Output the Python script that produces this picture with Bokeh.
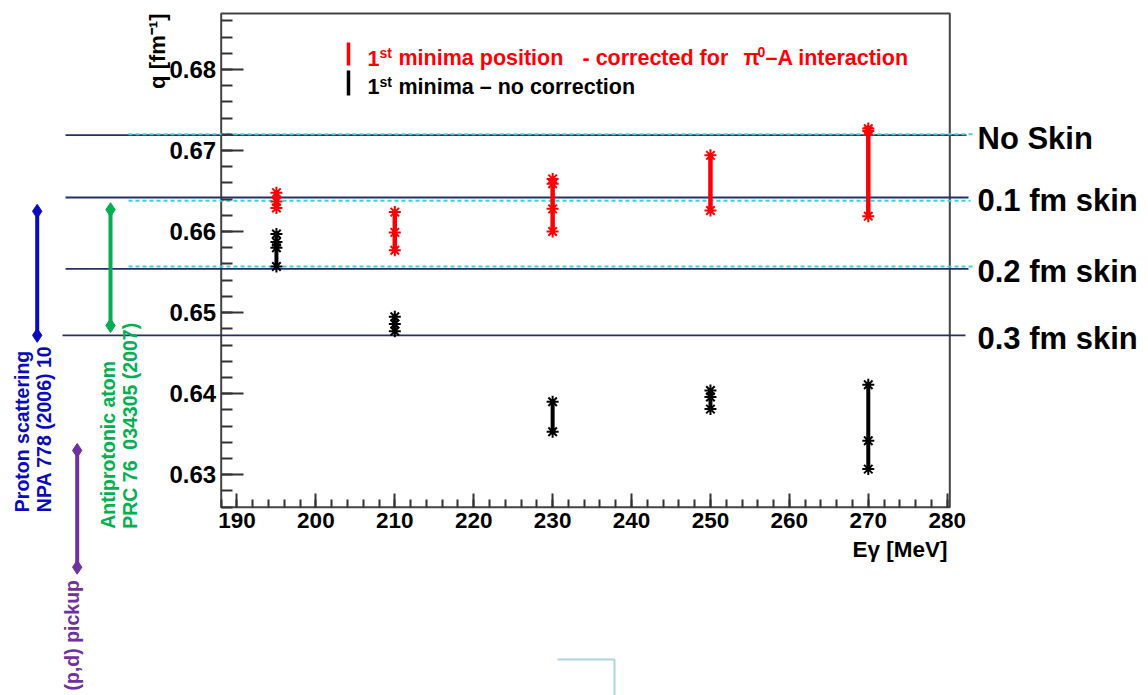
import math
import pandas as pd
from bokeh.plotting import figure
from bokeh.models import Range1d, LinearAxis, FixedTicker
from bokeh.core.properties import value
from bokeh.embed import file_html
from bokeh.resources import INLINE

# ---------------- data ----------------
corr_energy = [195, 195, 195, 210, 210, 210, 230, 230, 230, 230, 250, 250, 270, 270, 270]
corr_q = [0.6648, 0.6637, 0.6629, 0.6624, 0.6599, 0.6577, 0.6665, 0.6659, 0.6628, 0.6600,
          0.6694, 0.6626, 0.6727, 0.6724, 0.6619]
nocorr_energy = [195, 195, 195, 195, 210, 210, 210, 230, 230, 250, 250, 250, 270, 270, 270]
nocorr_q = [0.6597, 0.6587, 0.6580, 0.6557, 0.6495, 0.6486, 0.6477, 0.6390, 0.6353,
            0.6404, 0.6396, 0.6381, 0.6411, 0.6342, 0.6307]

skin_labels = ["No Skin", "0.1 fm skin", "0.2 fm skin", "0.3 fm skin"]
skin_q = [0.6719, 0.6642, 0.6554, 0.6472]
skin_q_dashed = [0.6720, 0.6638, 0.6557]

ref_names = ["Proton scattering", "Antiprotonic atom", "(p,d) pickup"]
ref_lo = [0.6472, 0.6484, 0.6186]
ref_hi = [0.6625, 0.6627, 0.6330]
ref_colors = ["#0a0ac0", "#00b050", "#7030a0"]

x_ticks = [190, 200, 210, 220, 230, 240, 250, 260, 270, 280]
x_minor_ticks = list(range(188, 281, 2))
y_ticks = [0.63, 0.64, 0.65, 0.66, 0.67, 0.68]
y_minor_ticks = [round(0.626 + 0.002 * i, 3) for i in range(31)]

legend_corr = ["1", "st", "minima position", "- corrected for", "\u03c0", "0", "\u2013A interaction"]
legend_nocorr = ["1", "st", "minima \u2013 no correction"]
x_title = "E\u03b3 [MeV]"
y_title = "q [fm\u207b\u00b9]"

# ---------------- layout (pixel frame <-> data) ----------------
W, H = 1148, 695
FRAME_L, FRAME_R, FRAME_T, FRAME_B = 220.7, 949.3, 13.0, 506.7
E_LO, E_HI = 188.0, 280.33
Q_LO, Q_HI = 0.626, 0.6869
SX = (FRAME_R - FRAME_L) / (E_HI - E_LO)
SY = (FRAME_B - FRAME_T) / (Q_HI - Q_LO)


def X(px):
    return E_LO + (px - FRAME_L) / SX


def Y(py):
    return Q_LO + (FRAME_B - py) / SY


FONT = value("Liberation Sans")

p = figure(width=W, height=H,
           x_range=Range1d(X(0), X(W)), y_range=Range1d(Y(H), Y(0)),
           x_axis_location=None, y_axis_location=None,
           toolbar_location=None, output_backend="svg",
           min_border=0, outline_line_color=None,
           background_fill_color="white", border_fill_color="white")
p.xgrid.visible = False
p.ygrid.visible = False

# axes placed on the frame edges
xaxis = LinearAxis(fixed_location=Q_LO,
                   ticker=FixedTicker(ticks=x_ticks, minor_ticks=x_minor_ticks),
                   axis_line_color=None,
                   major_tick_in=14, major_tick_out=0, minor_tick_in=8, minor_tick_out=0,
                   major_tick_line_color="#333", minor_tick_line_color="#333",
                   major_tick_line_width=2, minor_tick_line_width=2,
                   major_label_text_font="Liberation Sans", major_label_text_font_style="bold",
                   major_label_text_font_size="22.5px", major_label_text_color="black",
                   major_label_standoff=6)
p.add_layout(xaxis, "below")

yaxis = LinearAxis(fixed_location=E_LO,
                   ticker=FixedTicker(ticks=y_ticks, minor_ticks=y_minor_ticks),
                   axis_line_color=None,
                   major_tick_in=22, major_tick_out=0, minor_tick_in=11, minor_tick_out=0,
                   major_tick_line_color="#333", minor_tick_line_color="#333",
                   major_tick_line_width=2, minor_tick_line_width=2,
                   major_label_text_font="Liberation Sans", major_label_text_font_style="bold",
                   major_label_text_font_size="24px", major_label_text_color="black",
                   major_label_standoff=5)
p.add_layout(yaxis, "left")

# frame box
p.quad(left=[E_LO], right=[E_HI], bottom=[Q_LO], top=[Q_HI],
       fill_color=None, line_color="#444", line_width=2)

# skin reference lines
nav_x0 = [X(65), X(65), X(65), X(62)]
nav_x1 = [X(966), X(968), X(968), X(965)]
p.segment(x0=nav_x0, y0=skin_q, x1=nav_x1, y1=skin_q, line_color="#262f6b", line_width=1.8)
p.segment(x0=[X(128)] * 3, y0=skin_q_dashed, x1=[X(972), X(970), X(975)], y1=skin_q_dashed,
          line_color="#33d6dc", line_width=2, line_dash="4 3")
p.text(x=[X(977)] * 4, y=skin_q, text=skin_labels, y_offset=3,
       text_font=FONT, text_font_style="bold", text_font_size="31px",
       text_color="black", text_align="left", text_baseline="middle")

# data: vertical bars + asterisks
for en, q, col, lw in [(corr_energy, corr_q, "red", 4.5), (nocorr_energy, nocorr_q, "black", 4)]:
    g = pd.DataFrame({"E": en, "q": q}).groupby("E")["q"].agg(["min", "max"]).reset_index()
    p.segment(x0=g["E"], y0=g["min"], x1=g["E"], y1=g["max"], line_color=col, line_width=lw)
    p.scatter(x=en, y=q, marker="asterisk", size=12, line_color=col, line_width=2)

# legend (inside frame)
p.segment(x0=[X(348), X(348)], y0=[Y(42), Y(70)], x1=[X(348), X(348)], y1=[Y(65), Y(95)],
          line_color=["red", "black"], line_width=3.5)
corr_x = [367, 379, 398, 582, 743, 757, 765]
corr_mid = [57.5, 52.5, 57.5, 57.5, 57.5, 51.5, 57.5]
corr_size = ["21.5px", "14px", "21.5px", "21.5px", "21.5px", "14px", "21.5px"]
p.text(x=[X(v) for v in corr_x], y=[Y(v) for v in corr_mid], text=legend_corr,
       text_font=FONT, text_font_style="bold", text_font_size=corr_size,
       text_color="red", text_align="left", text_baseline="middle")
nc_x = [367, 379, 398]
nc_mid = [86, 81, 86]
nc_size = ["21.5px", "14px", "21.5px"]
p.text(x=[X(v) for v in nc_x], y=[Y(v) for v in nc_mid], text=legend_nocorr,
       text_font=FONT, text_font_style="bold", text_font_size=nc_size,
       text_color="black", text_align="left", text_baseline="middle")

# axis titles
p.text(x=[X(157)], y=[Y(13)], text=[y_title], angle=math.pi / 2,
       text_font=FONT, text_font_style="bold", text_font_size="22px",
       text_color="black", text_align="right", text_baseline="middle")
p.text(x=[X(947)], y=[Y(549)], text=[x_title],
       text_font=FONT, text_font_style="bold", text_font_size="22.5px",
       text_color="black", text_align="right", text_baseline="middle")

# left: other measurements (ranges in q)
ref_x = [X(36.7), X(110), X(76.7)]
p.segment(x0=ref_x, y0=ref_lo, x1=ref_x, y1=ref_hi, line_color=ref_colors, line_width=4)
p.scatter(x=ref_x + ref_x, y=ref_lo + ref_hi, marker="diamond", size=14,
          fill_color=ref_colors + ref_colors, line_color=ref_colors + ref_colors)

ref_text = ["Proton scattering", "NPA 778 (2006) 10",
            "Antiprotonic atom", "PRC 76\u00a0\u00a0034305 (2007)",
            "(p,d) pickup"]
ref_text_x = [21.7, 43.3, 107.5, 129.2, 71.7]
ref_text_y = [511.7, 511.7, 528.3, 528.3, 690]
ref_text_col = [ref_colors[0], ref_colors[0], ref_colors[1], ref_colors[1], ref_colors[2]]
p.text(x=[X(v) for v in ref_text_x], y=[Y(v) for v in ref_text_y], text=ref_text,
       angle=math.pi / 2, text_font=FONT, text_font_style="bold", text_font_size="19.5px",
       text_color=ref_text_col, text_align="left", text_baseline="middle")

# faint decoration at the bottom
p.line(x=[X(557), X(614), X(614)], y=[Y(659), Y(659), Y(700)], line_color="#aad8dc", line_width=2)

open("out.html", "w").write(file_html(p, INLINE))
